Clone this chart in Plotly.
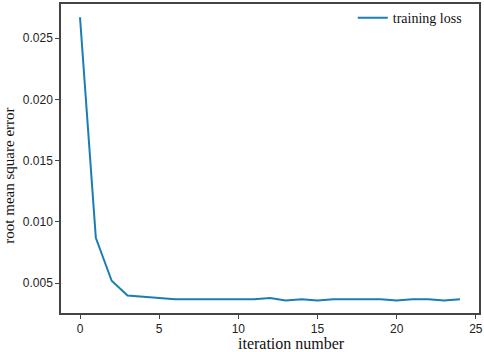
import plotly.graph_objects as go

iterations = list(range(25))
training_loss = [0.0267, 0.0087, 0.0052, 0.0040, 0.0039, 0.0038, 0.0037, 0.0037, 0.0037,
                 0.0037, 0.0037, 0.0037, 0.0038, 0.0036, 0.0037, 0.0036, 0.0037, 0.0037,
                 0.0037, 0.0037, 0.0036, 0.0037, 0.0037, 0.0036, 0.0037]
x_ticks = [0, 5, 10, 15, 20, 25]
y_ticks = [0.005, 0.010, 0.015, 0.020, 0.025]

fig = go.Figure()
fig.add_trace(go.Scatter(x=iterations, y=training_loss, mode="lines", name="training loss",
                         line=dict(color="#1a7db3", width=2)))

axis_common = dict(showline=True, mirror=True, linecolor="#444", linewidth=1.5, automargin=False,
                   ticks="outside", ticklen=4, tickcolor="#444", showgrid=False, zeroline=False,
                   tickfont=dict(family="Liberation Sans, Arial", size=12, color="#222"))
fig.update_xaxes(range=[-1.2, 25.2], tickvals=x_ticks, **axis_common)
fig.update_yaxes(range=[0.00257, 0.02778], tickvals=y_ticks, tickformat=".3f", **axis_common)

fig.update_layout(
    width=484, height=352,
    margin=dict(l=61, r=5, t=3, b=39),
    plot_bgcolor="white", paper_bgcolor="white",
    showlegend=True,
    legend=dict(x=0.698, y=1.003, xanchor="left", yanchor="top", bgcolor="rgba(0,0,0,0)",
                font=dict(family="Liberation Serif, Times New Roman", size=14, color="#111")),
    annotations=[
        dict(text="iteration number", xref="paper", yref="paper", x=(291 - 61) / 418, y=-0.065,
             xanchor="center", yanchor="top", showarrow=False,
             font=dict(family="Liberation Serif, Times New Roman", size=16, color="#111")),
        dict(text="root mean square error", xref="paper", yref="paper", x=-0.124, y=0.445,
             xanchor="center", yanchor="middle", showarrow=False, textangle=-90,
             font=dict(family="Liberation Serif, Times New Roman", size=15, color="#111")),
    ],
)

fig.write_html("out.html", post_script="document.body.style.margin='0';",
               config={"displayModeBar": False})
